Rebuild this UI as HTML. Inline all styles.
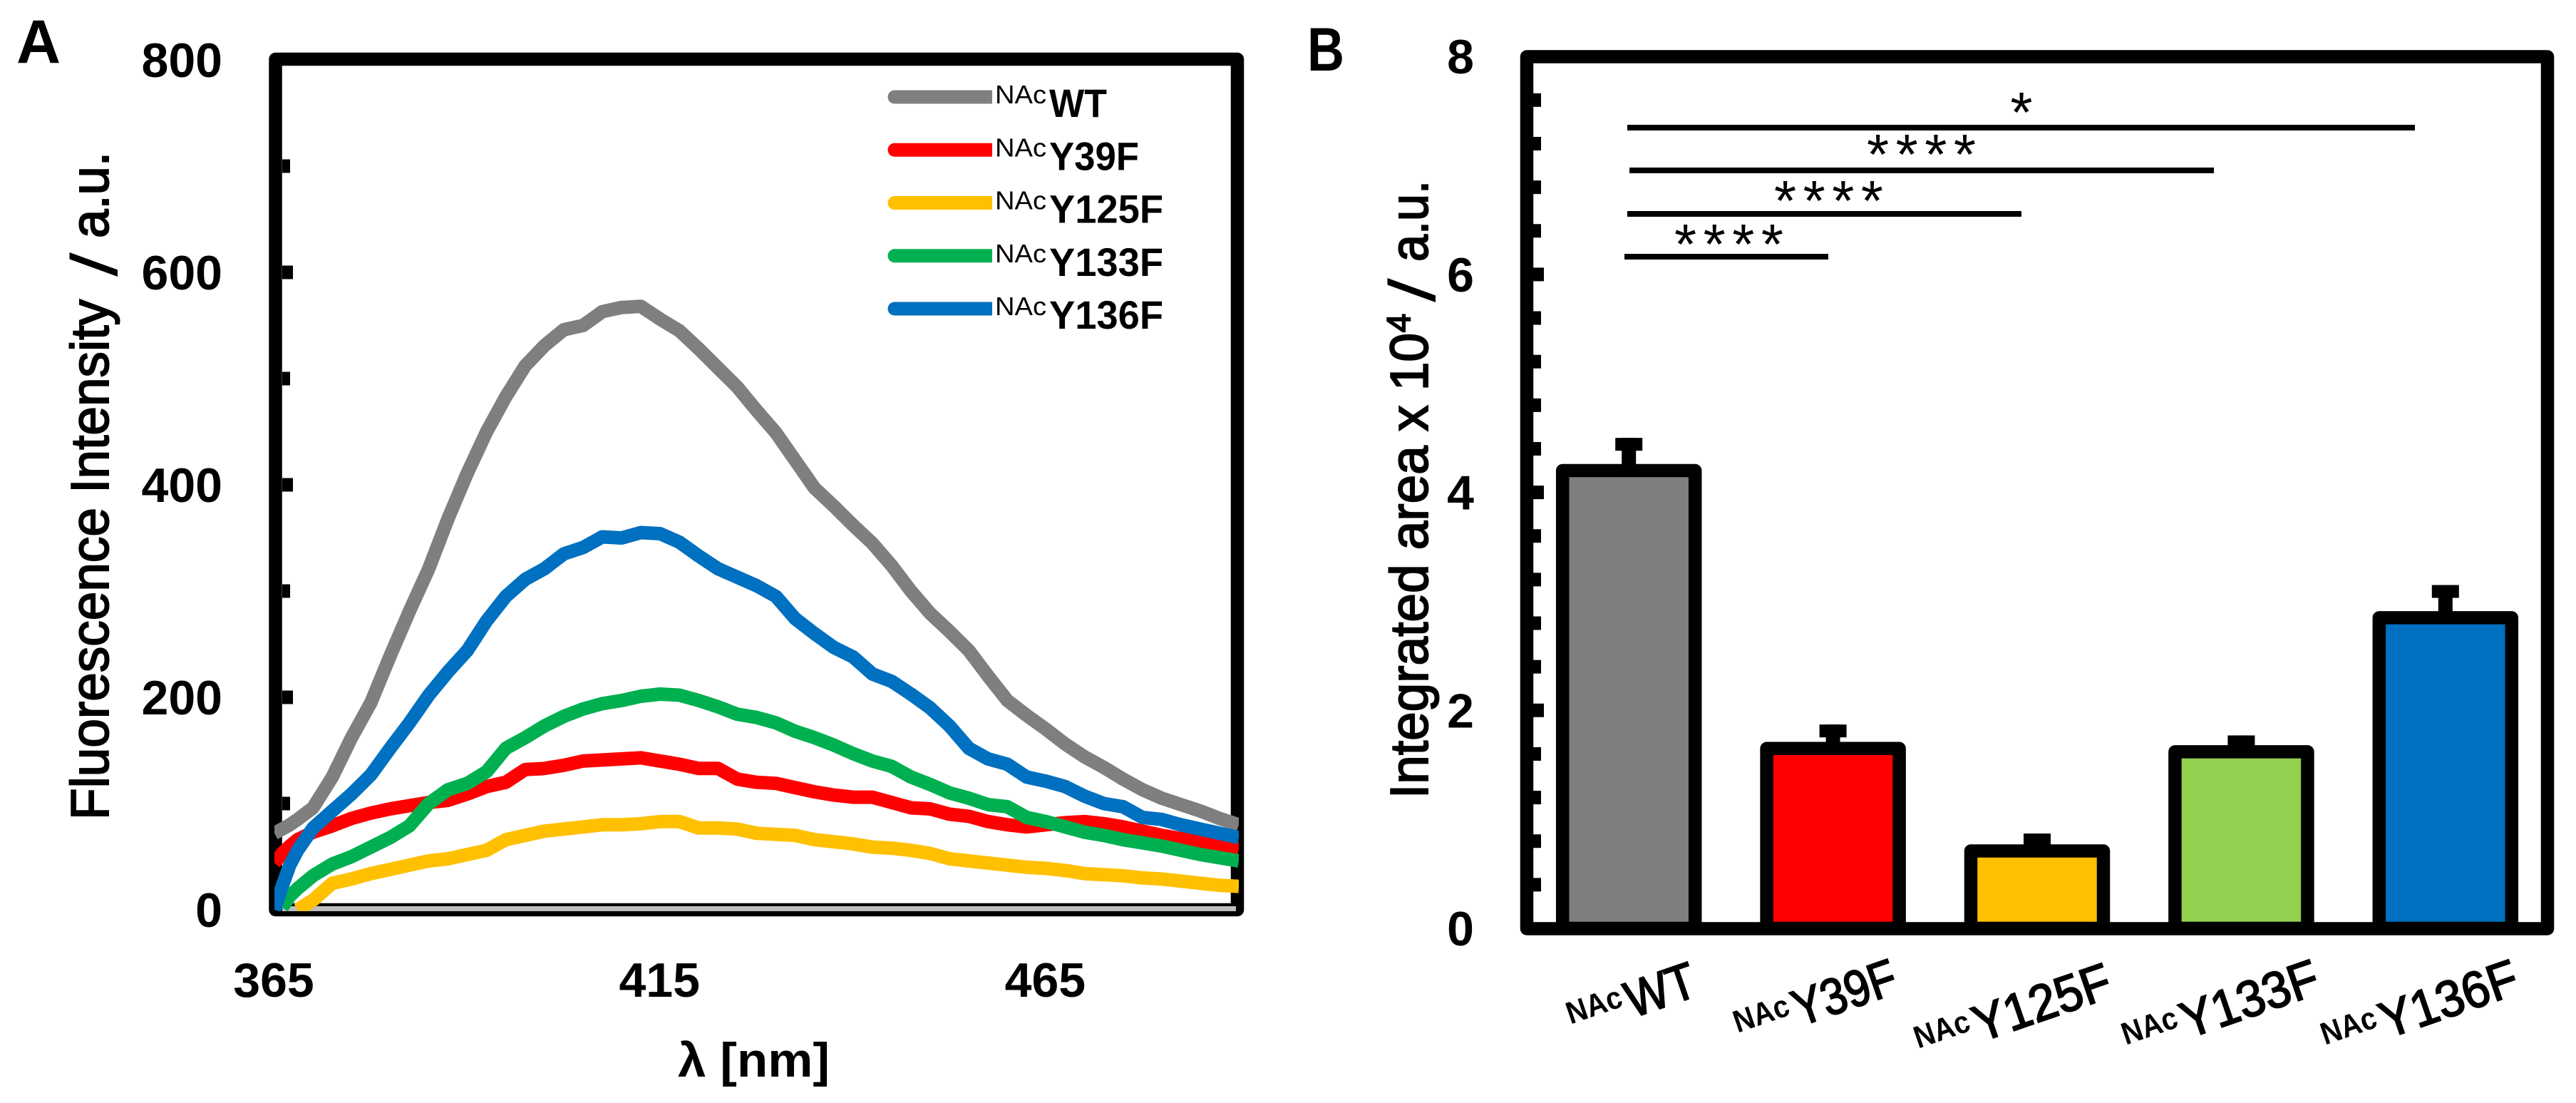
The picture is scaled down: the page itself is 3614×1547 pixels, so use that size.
<!DOCTYPE html>
<html lang="en">
<head>
<meta charset="utf-8">
<title>Fluorescence spectra and integrated area</title>
<style>
html,body{margin:0;padding:0;background:#fff}
svg{display:block}
text{font-family:"Liberation Sans",sans-serif;fill:#000}
.tick{font-weight:700;font-size:68px}
.title{font-size:75px;stroke:#000;stroke-width:2px}
.slash{font-size:92px}
.panel{font-weight:700;font-size:86px}
.sup{font-size:36px}
.main{font-size:56px;font-weight:700}
.rotsup{font-size:44px;font-weight:700}
.rotmain{font-size:72px;font-weight:400;stroke:#000;stroke-width:2px}
.star{font-size:80px}
</style>
</head>
<body>
<svg id="fig" xmlns="http://www.w3.org/2000/svg" width="3614" height="1547" viewBox="0 0 3614 1547">
  <rect x="0" y="0" width="3614" height="1547" fill="#fff"/>
  <defs>
    <clipPath id="plotA"><rect x="385" y="60" width="1353" height="1218"/></clipPath>
  </defs>

  <g id="panelA">
    <text class="panel" x="23" y="88">A</text>
    <rect x="386.5" y="83" width="1349.5" height="1193" fill="none" stroke="#000" stroke-width="18.5" stroke-linejoin="round"/>
    <g id="axisA"></g>
    <g id="xAxisA"></g>
    <g id="linesA" clip-path="url(#plotA)"></g>
    <g id="legendA"></g>
    <g>
      <text class="title" transform="translate(152 1150) rotate(-90)" textLength="730" lengthAdjust="spacingAndGlyphs">Fluorescence Intensity</text>
      <text class="slash" transform="translate(164 388) rotate(-90)" textLength="34" lengthAdjust="spacingAndGlyphs">/</text>
      <text class="title" transform="translate(152 334) rotate(-90)" textLength="121" lengthAdjust="spacingAndGlyphs">a.u.</text>
    </g>
    <text class="tick" x="951" y="1510" textLength="213" lengthAdjust="spacingAndGlyphs">λ [nm]</text>
  </g>

  <g id="panelB">
    <text class="panel" x="1834" y="99" textLength="52" lengthAdjust="spacingAndGlyphs">B</text>
    <rect x="2142" y="79.5" width="1432" height="1223" fill="none" stroke="#000" stroke-width="18.5" stroke-linejoin="round"/>
    <g id="axisB"></g>
    <g id="barsB"></g>
    <g id="xAxisB"></g>
    <g>
      <text class="title" transform="translate(2003 1120) rotate(-90)" textLength="653" lengthAdjust="spacingAndGlyphs">Integrated area x 10</text>
      <text class="title" style="font-size:46px" transform="translate(1978 466) rotate(-90)" textLength="26" lengthAdjust="spacingAndGlyphs">4</text>
      <text class="slash" transform="translate(2013 424) rotate(-90)" textLength="34" lengthAdjust="spacingAndGlyphs">/</text>
      <text class="title" transform="translate(2003 367) rotate(-90)" textLength="114" lengthAdjust="spacingAndGlyphs">a.u.</text>
    </g>
    <g>
      <rect x="2283" y="175" width="1105" height="8" fill="#000"/>
      <rect x="2286" y="235" width="820" height="8" fill="#000"/>
      <rect x="2283" y="296" width="553" height="8" fill="#000"/>
      <rect x="2279" y="356" width="286" height="8" fill="#000"/>
      <text class="star" x="2836" y="185" text-anchor="middle">*</text>
      <text class="star" x="2619" y="244" textLength="153">****</text>
      <text class="star" x="2489" y="309" textLength="153">****</text>
      <text class="star" x="2349" y="370" textLength="153">****</text>
    </g>
  </g>
</svg>

<script>
// ---- Panel A data ----
const wavelengths = [365,366,367,368,
  370,372.5,375,377.5,380,382.5,385,387.5,390,392.5,395,397.5,
  400,402.5,405,407.5,410,412.5,415,417.5,420,422.5,425,427.5,
  430,432.5,435,437.5,440,442.5,445,447.5,450,452.5,455,457.5,
  460,462.5,465,467.5,470,472.5,475,477.5,480,482.5,485,487.5,490];
const intensityWT = [72,76,80,85,
  96,125,162,195, 239,281,321,368, 411,450,483,512,
  531,546,550,563, 567,568,556,545, 528,510,492,470,
  449,423,397,380, 362,345,324,300, 279,262,244,220,
  197,183,170,156, 144,134,123,113, 105,99,93,86, 80];
const intensityY39F = [44,53,60,66,
  73,79,86,91, 95,98,101,103, 109,116,120,132,
  133,136,140,141, 142,143,140,137, 133,133,123,120,
  119,115,111,108, 106,106,101,96, 95,90,88,83,
  80,78,80,82, 83,81,78,74, 70,67,64,61, 58];
const intensityY125F = [null,null,null,0,
  9,25,29,34, 38,42,46,48, 52,56,66,70,
  74,76,78,80, 80,81,83,83, 77,77,76,72,
  71,70,66,64, 62,59,58,56, 53,48,46,44,
  42,40,39,37, 34,33,32,30, 29,27,25,23, 22];
const intensityY133F = [null,2,13,20,
  32,43,50,59, 68,79,100,113, 119,130,152,162,
  173,182,189,194, 197,201,203,202, 197,191,184,181,
  176,168,162,155, 147,140,135,125, 118,110,105,99,
  97,87,83,78, 73,70,66,63, 60,56,52,49, 46];
const intensityY136F = [0,22,42,56,
  77,93,109,127, 152,176,202,224, 244,272,295,311,
  321,335,341,351, 350,355,354,346, 333,321,313,305,
  295,274,260,247, 238,222,215,203, 190,173,152,142,
  137,125,121,116, 107,100,97,87, 85,80,76,72, 68];
const seriesNames = ["WT","Y39F","Y125F","Y133F","Y136F"];
const seriesColors = ["#7f7f7f","#ff0000","#ffc000","#00b050","#0070c0"];
const yTicksA = [0,100,200,300,400,500,600,700,800];
const yTickLabelsA = ["0","200","400","600","800"];
const xTicksA = [365,415,465];

// ---- Panel B data ----
const barCategories = ["WT","Y39F","Y125F","Y133F","Y136F"];
const barValues = [4.2,1.65,0.71,1.62,2.85];
const barErrors = [0.3,0.22,0.16,0.15,0.3];
const barColors = ["#7f7f7f","#ff0000","#ffc000","#92d050","#0070c0"];
const yTicksB = [0,0.4,0.8,1.2,1.6,2,2.4,2.8,3.2,3.6,4,4.4,4.8,5.2,5.6,6,6.4,6.8,7.2,7.6,8];
const yTickLabelsB = ["0","2","4","6","8"];

// ---- Scales ----
const xA = l => 385 + (l - 365) * 10.824;
const yA = v => 1276 - v * 1.49;
const yB = v => 1302 - v * 152.85;
const bandB = i => 2142 + (i + 0.5) * 286.4;

const NS = "http://www.w3.org/2000/svg";
function make(tag, parent, attrs, txt) {
  const n = document.createElementNS(NS, tag);
  for (const k in attrs) n.setAttribute(k, attrs[k]);
  if (txt !== undefined) n.textContent = txt;
  parent.appendChild(n);
  return n;
}

// ---- Panel A axes ----
const axisA = document.getElementById("axisA");
const xAxisA = document.getElementById("xAxisA");
const zeroLine = make("rect", axisA, {x:396, y:yA(0)-5, width:1338, height:7, fill:"#bfbfbf"});


yTicksA.forEach(v => {
  if (v === 0 || v === 800) return;
  const major = v % 200 === 0;
  const t = make("rect", axisA, {x:396, y:yA(v)-9.5, width:major ? 15 : 11, height:19, fill:"#000"});
  
  
});
yTickLabelsA.forEach(s => {
  const t = make("text", axisA, {class:"tick", x:312, y:yA(+s)+24, "text-anchor":"end"}, s);
  
  
});
xTicksA.forEach(v => {
  const t = make("text", xAxisA, {class:"tick", x:xA(v)-1, y:1398, "text-anchor":"middle"}, String(v));
  
  
});

// ---- Panel A series ----
const linesA = document.getElementById("linesA");
const seriesValues = [intensityWT, intensityY39F, intensityY125F, intensityY133F, intensityY136F];
seriesValues.forEach((vals, s) => {
  let d = "";
  vals.forEach((v, i) => {
    if (v === null) return;
    d += (d ? "L" : "M") + xA(wavelengths[i]).toFixed(1) + " " + yA(v).toFixed(1);
  });
  const p = make("path", linesA, {d, fill:"none", stroke:seriesColors[s], "stroke-width":19, "stroke-linejoin":"round"});
  
  
});

// ---- Legend ----
const legendA = document.getElementById("legendA");
const legendWidths = [81,126,160,160,160];
seriesNames.forEach((name, i) => {
  const cy = 136 + i * 74.25;
  const sw = make("path", legendA, {d:"M1255 " + cy + "H1392", fill:"none", stroke:seriesColors[i], "stroke-width":19});
  
  
  const cap = make("circle", legendA, {cx:1255, cy:cy, r:9.5, fill:seriesColors[i]});
  
  
  const sup = make("text", legendA, {class:"sup", x:1396, y:cy+9, textLength:72, lengthAdjust:"spacingAndGlyphs"}, "NAc");
  
  
  const lab = make("text", legendA, {class:"main", x:1472, y:cy+28, textLength:legendWidths[i], lengthAdjust:"spacingAndGlyphs"}, name);
  
  
});

// ---- Panel B axes ----
const axisB = document.getElementById("axisB");
yTicksB.forEach((v, i) => {
  if (i === 0 || i === yTicksB.length - 1) return;
  const major = i % 5 === 0;
  const t = make("rect", axisB, {x:2151, y:yB(v)-9.5, width:major ? 15 : 11, height:19, fill:"#000"});
  
  
});
yTickLabelsB.forEach(s => {
  const t = make("text", axisB, {class:"tick", x:2068, y:yB(+s)+24, "text-anchor":"end"}, s);
  
  
});

// ---- Panel B bars ----
const barsB = document.getElementById("barsB");
barValues.forEach((v, i) => {
  const cx = bandB(i);
  const top = yB(v + barErrors[i]);
  const stem = make("rect", barsB, {x:cx-10, y:top, width:20, height:yB(v)-top, fill:"#000"});
  
  
  const capB = make("rect", barsB, {x:cx-19, y:top, width:38, height:18, fill:"#000"});
  
  
  const bar = make("rect", barsB, {x:cx-93, y:yB(v), width:186, height:yB(0)-yB(v), fill:barColors[i], stroke:"#000", "stroke-width":18.5, "stroke-linejoin":"round"});
  
  
});

// ---- Panel B category labels ----
const xAxisB = document.getElementById("xAxisB");
const labelAnchorOffset = [5, -47, -80, -75, -82];
const labelDrop = [126, 138, 160, 155, 155];
const labelLengths = [100,150,200,200,200];
barCategories.forEach((name, i) => {
  const g = make("g", xAxisB, {transform:"translate(" + (bandB(i) + labelAnchorOffset[i]) + " " + (yB(0) + labelDrop[i]) + ") rotate(-19)"});
  
  
  const a = make("text", g, {class:"rotsup", x:-85, y:-20, textLength:80, lengthAdjust:"spacingAndGlyphs"}, "NAc");
  
  
  const b = make("text", g, {class:"rotmain", x:0, y:0, textLength:labelLengths[i], lengthAdjust:"spacingAndGlyphs"}, name);
  
  
});
</script>
</body>
</html>
